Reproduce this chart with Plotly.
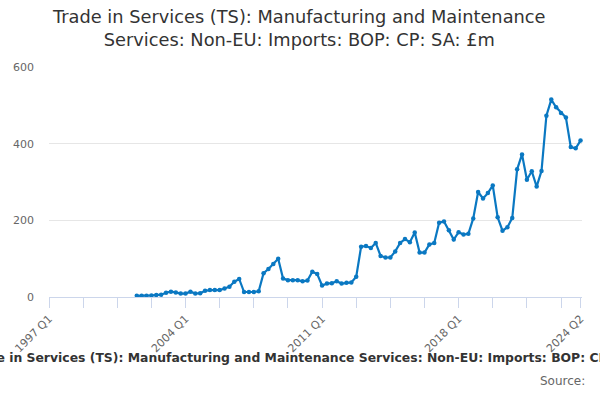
import plotly.graph_objects as go

# quarters 1997 Q1 .. 2024 Q2
quarters = [f"{y} Q{q}" for y in range(1997, 2025) for q in range(1, 5)][:110]

# £m, series starts 2001 Q3 (first 18 quarters empty)
values = [None] * 18 + [
    3, 3, 3, 4, 5, 6, 11, 14, 12, 9,
    9, 14, 9, 10, 16, 18, 18, 18, 22, 27,
    40, 47, 13, 13, 13, 15, 62, 73, 86, 100,
    48, 44, 44, 44, 41, 43, 66, 60, 30, 35,
    36, 41, 35, 37, 38, 53, 131, 133, 128, 141,
    107, 103, 103, 119, 141, 151, 143, 168, 116, 116,
    137, 141, 194, 197, 174, 150, 169, 163, 165, 205,
    274, 257, 271, 291, 208, 173, 182, 206, 333, 372,
    306, 328, 288, 329, 473, 515, 495, 480, 468, 391,
    388, 408,
]

tick_idx = list(range(0, 106, 7)) + [109]
label_idx = [0, 28, 56, 84, 109]

title = 'Trade in Services (TS): Manufacturing and Maintenance Services: Non-EU: Imports: BOP: CP: SA: £m'

fig = go.Figure()
fig.add_trace(go.Scatter(
    x=quarters, y=values, mode='lines+markers',
    line=dict(color='#0a78c2', width=2.2),
    marker=dict(color='#0a78c2', size=4.5),
    connectgaps=False, showlegend=False, cliponaxis=False,
))

fig.update_layout(
    width=600, height=400,
    margin=dict(l=47, r=18, t=67, b=103),
    paper_bgcolor='white', plot_bgcolor='white',
    font=dict(family='DejaVu Sans', color='#666666', size=11),
    xaxis=dict(
        type='category', range=[0, 109.3],
        tickmode='array',
        tickvals=[quarters[i] for i in tick_idx],
        ticktext=[quarters[i] if i in label_idx else '' for i in tick_idx],
        tickangle=-45, ticks='outside', ticklen=10, tickcolor='#ccd6eb',
        showline=True, linecolor='#ccd6eb', showgrid=False,
        tickfont=dict(size=11, color='#666666'),
    ),
    yaxis=dict(
        range=[0, 600], tickvals=[0, 200, 400, 600],
        showgrid=True, gridcolor='#e6e6e6', zeroline=False,
        ticks='', ticklabelstandoff=14,
        tickfont=dict(size=11, color='#666666'),
    ),
    annotations=[
        dict(text='Trade in Services (TS): Manufacturing and Maintenance<br>Services: Non-EU: Imports: BOP: CP: SA: £m',
             xref='paper', yref='paper', x=0.469, y=1.17, xanchor='center', yanchor='middle',
             showarrow=False, font=dict(family='DejaVu Sans', size=17.8, color='#333333')),
        dict(text='<b>' + title + '</b>',
             xref='paper', yref='paper', x=0.5, y=-0.261, xanchor='center', yanchor='middle',
             showarrow=False, font=dict(family='DejaVu Sans', size=12.4, color='#333333')),
        dict(text='Source:', xref='paper', yref='paper', x=1.01, y=-0.365,
             xanchor='right', yanchor='middle', showarrow=False,
             font=dict(family='DejaVu Sans', size=12, color='#666666')),
    ],
)

fig.write_html("out.html", config={'displayModeBar': False},
               post_script="document.body.style.margin='0';document.body.style.overflow='hidden';")
